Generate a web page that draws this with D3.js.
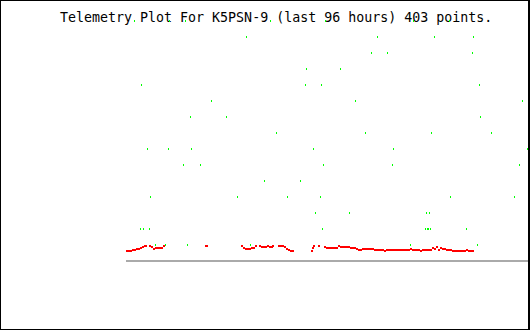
<!DOCTYPE html>
<html>
<head>
<meta charset="utf-8">
<script src="https://cdn.jsdelivr.net/npm/d3@7"></script>
<style>
  html, body { margin: 0; padding: 0; background: #fff; }
  svg { display: block; }
</style>
</head>
<body>
<svg id="chart" width="530" height="330"></svg>
<script>
// ---- data (hours since start of the 96-hour window) ----
const titleText = "Telemetry Plot For K5PSN-9 (last 96 hours) 403 points.";
const windowHours = [0, 96];

// green series: [hour, level]
const greenHours = [
  1.91, 10.27, 14.09, 34.39, 47.52, 68.54, 77.13,
  28.66, 59.94, 73.55, 82.87,
  58.51, 62.33, 82.63,
  42.99, 51.10,
  3.58, 42.75, 46.57, 84.30,
  20.30, 54.69, 94.57,
  15.28, 23.88, 84.54,
  35.82, 57.07, 72.84, 87.16,
  5.01, 10.03, 15.52, 44.66, 63.76, 95.76,
  13.61, 17.67, 47.04, 63.52, 93.85,
  32.96, 41.55,
  5.73, 26.51, 38.45, 46.33, 77.37, 92.66,
  45.13, 53.25, 71.64, 72.36,
  3.34, 4.06, 5.49, 46.81, 71.40, 71.88, 72.12, 72.60, 81.19,
  6.93, 9.31, 14.57, 29.61, 67.82, 83.82
];
const greenLevels = [
  15, 15, 15, 15, 15, 15, 15,
  14, 14, 14, 14,
  13, 13, 13,
  12, 12,
  11, 11, 11, 11,
  10, 10, 10,
  9, 9, 9,
  8, 8, 8, 8,
  7, 7, 7, 7, 7, 7,
  6, 6, 6, 6, 6,
  5, 5,
  4, 4, 4, 4, 4, 4,
  3, 3, 3, 3,
  2, 2, 2, 2, 2, 2, 2, 2, 2,
  1, 1, 1, 1, 1, 1
];

// red series: [hour, value]
const redHours = [
  0.00, 0.48, 0.96, 1.43, 1.91, 2.39, 2.87, 3.34, 3.82, 4.30, 4.54,
  5.49, 5.97, 6.45, 6.93, 7.40, 7.88, 8.36, 8.84,
  18.87, 19.10,
  27.46, 27.94, 28.42, 28.90, 29.37, 29.85, 30.33, 30.81,
  31.76, 32.24, 32.72, 33.19, 33.67, 34.15, 34.63, 34.87,
  36.30, 36.78, 37.25, 37.73, 38.21, 38.69, 39.16, 39.64,
  44.18, 44.42, 44.66, 45.85,
  47.28, 47.76, 48.24, 48.72, 49.19, 49.67, 50.15, 50.63, 51.10, 51.58,
  52.06, 52.54, 53.01, 53.49, 53.97, 54.45, 54.93, 55.40, 55.88, 56.36,
  56.84, 57.31, 57.79, 58.27, 58.75, 59.22, 59.70, 60.18, 60.66, 61.13,
  61.61, 62.09, 62.57, 63.04, 63.52, 64.00, 64.48, 64.96, 65.43, 65.91,
  66.39, 66.87, 67.34, 67.82, 68.30, 68.78, 69.25, 69.73, 70.21, 70.69,
  71.16, 71.64, 72.12, 72.60, 73.07, 73.55, 74.03, 74.51, 74.99, 75.46,
  75.94, 76.42, 76.90, 77.37, 77.85, 78.33, 78.81, 79.28, 79.76, 80.24,
  80.72, 81.19, 81.67, 82.15, 82.63
];
const redValues = [
  10, 10, 10, 11, 11, 12, 12, 13, 14, 15, 15,
  15, 14, 12, 13, 13, 13, 13, 15,
  15, 15,
  15, 13, 12, 12, 12, 13, 13, 15,
  15, 14, 14, 14, 15, 14, 14, 15,
  15, 15, 15, 14, 12, 11, 10, 10,
  10, 13, 15, 15,
  14, 13, 13, 13, 13, 13, 13, 15, 14, 14,
  14, 14, 14, 13, 13, 13, 12, 11, 11, 12,
  12, 12, 12, 12, 12, 11, 11, 11, 11, 11,
  10, 11, 11, 11, 11, 11, 11, 11, 11, 11,
  11, 11, 11, 12, 11, 11, 11, 11, 10, 11,
  11, 11, 11, 11, 13, 12, 14, 11, 13, 12,
  12, 11, 11, 11, 10, 10, 10, 10, 10, 10,
  10, 11, 10, 10, 10
];

// ---- scales ----
const x = d3.scaleLinear().domain(windowHours).range([126, 528]);
const yGreen = d3.scaleLinear().domain([0, 15]).range([260, 20]);
const yRed = d3.scaleLinear().domain([0, 240]).range([260, 20]);

const svg = d3.select("#chart");
svg.append("rect").attr("width", 530).attr("height", 330).attr("fill", "#fff");

// title
svg.append("text")
  .attr("x", 60).attr("y", 22)
  .attr("font-family", "'DejaVu Sans Mono', 'Liberation Mono', monospace")
  .attr("font-size", "13.3px")
  .attr("fill", "#000")
  .text(titleText);

// baseline
svg.append("rect")
  .attr("x", x(windowHours[0]))
  .attr("y", yGreen(0))
  .attr("width", x(windowHours[1]) - x(windowHours[0]))
  .attr("height", 2)
  .attr("fill", "#aaaaaa")
  .attr("shape-rendering", "crispEdges");

// red series
const redData = redHours.map((h, i) => ({ h, v: redValues[i] }));
svg.append("g").selectAll("rect").data(redData).join("rect")
  .attr("x", d => x(d.h))
  .attr("y", d => yRed(d.v))
  .attr("width", 2).attr("height", 2)
  .attr("fill", "#ff0000")
  .attr("shape-rendering", "crispEdges");

// green series
const greenData = greenHours.map((h, i) => ({ h, v: greenLevels[i] }));
svg.append("g").selectAll("rect").data(greenData).join("rect")
  .attr("x", d => x(d.h))
  .attr("y", d => yGreen(d.v))
  .attr("width", 1).attr("height", 2)
  .attr("fill", "#00ff00")
  .attr("shape-rendering", "crispEdges");

// frame
const frame = svg.append("g").attr("fill", "#000").attr("shape-rendering", "crispEdges");
frame.append("rect").attr("x", 0).attr("y", 0).attr("width", 530).attr("height", 1);
frame.append("rect").attr("x", 0).attr("y", 329).attr("width", 530).attr("height", 1);
frame.append("rect").attr("x", 0).attr("y", 0).attr("width", 1).attr("height", 330);
frame.append("rect").attr("x", 528).attr("y", 0).attr("width", 2).attr("height", 330);
</script>
</body>
</html>
